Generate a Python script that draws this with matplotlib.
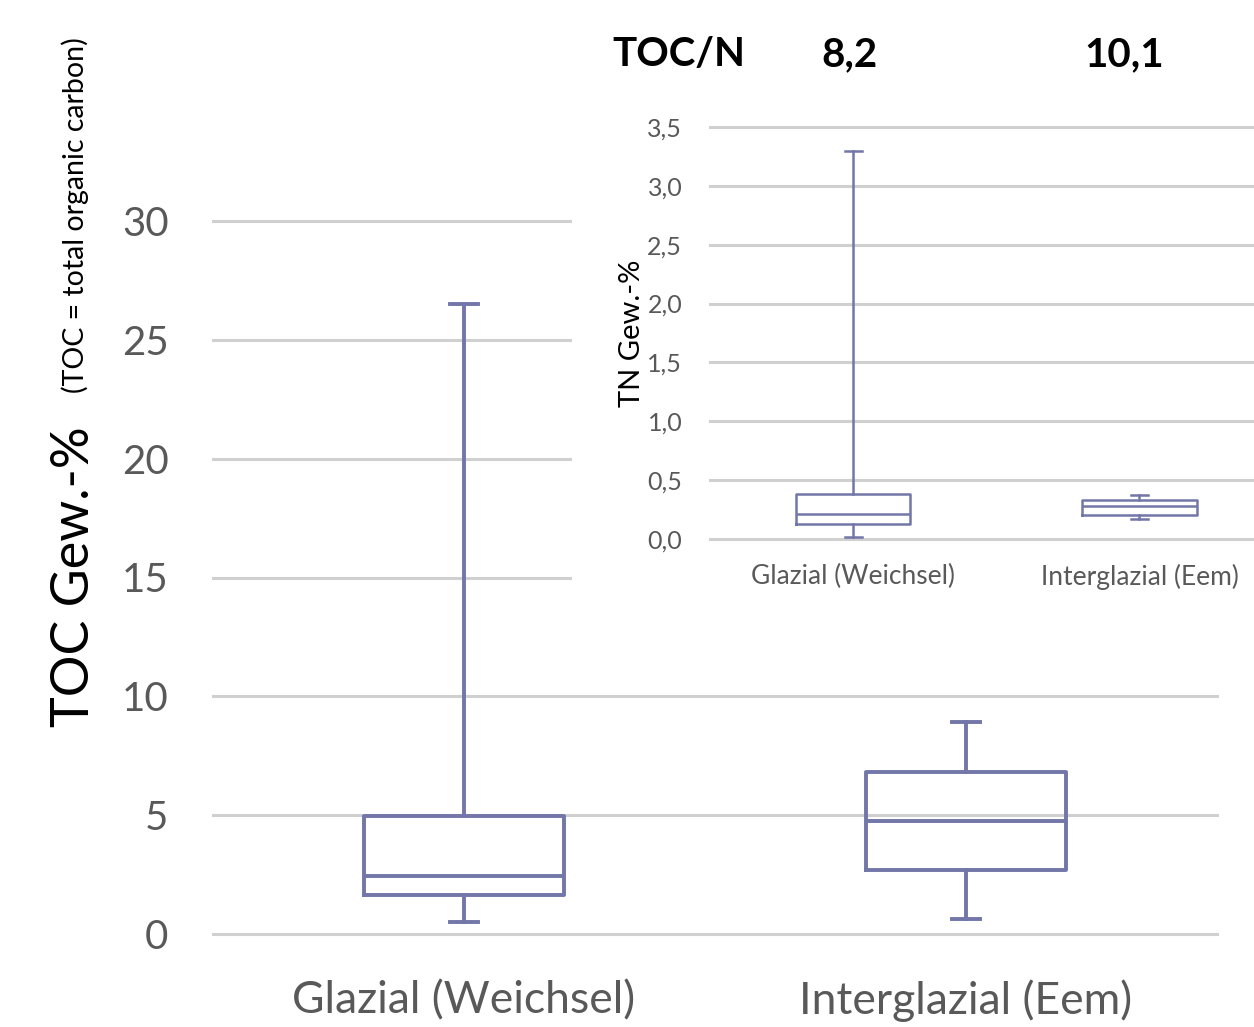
import matplotlib.pyplot as plt
from matplotlib.patches import Rectangle

# TOC (Gew.-%) box stats
categories = ['Glazial (Weichsel)', 'Interglazial (Eem)']
toc_min = [0.5, 0.63]
toc_q1 = [1.64, 2.69]
toc_med = [2.44, 4.75]
toc_q3 = [4.96, 6.82]
toc_max = [26.5, 8.92]

# TN (Gew.-%) box stats for the inset
tn_min = [0.02, 0.17]
tn_q1 = [0.13, 0.20]
tn_med = [0.21, 0.28]
tn_q3 = [0.38, 0.33]
tn_max = [3.30, 0.375]

toc_n = ['8,2', '10,1']
toc_ticks = [0, 5, 10, 15, 20, 25, 30]
tn_ticks = [0.0, 0.5, 1.0, 1.5, 2.0, 2.5, 3.0, 3.5]

box_col = '#7276A8'
grid_col = '#D0D0D0'
tick_col = '#595959'
font = 'Lato'


def stats(mins, q1, med, q3, maxs):
    return [dict(whislo=a, q1=b, med=c, q3=d, whishi=e)
            for a, b, c, d, e in zip(mins, q1, med, q3, maxs)]


fig = plt.figure(figsize=(12.54, 10.27), dpi=100)

# main chart
ax = fig.add_axes([213 / 1254, 1 - 934 / 1027, 1004 / 1254, 713 / 1027])
lw = 2.8
ax.bxp(stats(toc_min, toc_q1, toc_med, toc_q3, toc_max), positions=[1, 2],
       widths=0.4, showfliers=False, capwidths=0.055,
       boxprops=dict(color=box_col, linewidth=lw),
       whiskerprops=dict(color=box_col, linewidth=lw),
       capprops=dict(color=box_col, linewidth=lw),
       medianprops=dict(color=box_col, linewidth=lw))
ax.set_xlim(0.5, 2.5)
ax.set_ylim(0, 30)
ax.set_yticks(toc_ticks)
ax.set_yticklabels([str(t) for t in toc_ticks], fontsize=29, color=tick_col, family=font)
ax.set_xticks([1, 2])
ax.set_xticklabels(categories, fontsize=32, color=tick_col, family=font)
ax.tick_params(length=0)
ax.tick_params(axis='y', pad=32)
ax.tick_params(axis='x', pad=33)
for s in ax.spines.values():
    s.set_visible(False)
for t in toc_ticks:
    ax.axhline(t, color=grid_col, linewidth=2.2, zorder=0, clip_on=False)

fig.text(75 / 1254, 1 - 577 / 1027, 'TOC Gew.-%', rotation=90, fontsize=37.5,
         family=font, ha='center', va='center')
fig.text(75 / 1254, 1 - 215 / 1027, '(TOC = total organic carbon)', rotation=90,
         fontsize=20.5, family=font, ha='center', va='center')

# white area behind the inset
fig.patches.append(Rectangle((572 / 1254, 1 - 650 / 1027), 682 / 1254, 650 / 1027,
                             transform=fig.transFigure, facecolor='white',
                             edgecolor='none', zorder=1))

# inset
ax2 = fig.add_axes([710 / 1254, 1 - 539 / 1027, 544 / 1254, 412 / 1027], zorder=2)
ax2.patch.set_alpha(0)
lw2 = 1.8
ax2.bxp(stats(tn_min, tn_q1, tn_med, tn_q3, tn_max), positions=[1, 2],
        widths=0.4, showfliers=False, capwidths=0.06,
        boxprops=dict(color=box_col, linewidth=lw2),
        whiskerprops=dict(color=box_col, linewidth=lw2),
        capprops=dict(color=box_col, linewidth=lw2),
        medianprops=dict(color=box_col, linewidth=lw2))
ax2.set_xlim(0.5, 2.4)
ax2.set_ylim(0, 3.5)
ax2.set_yticks(tn_ticks)
ax2.set_yticklabels([f'{t:.1f}'.replace('.', ',') for t in tn_ticks],
                    fontsize=18, color=tick_col, family=font)
ax2.set_xticks([1, 2])
ax2.set_xticklabels(categories, fontsize=19, color=tick_col, family=font)
ax2.tick_params(length=0)
ax2.tick_params(axis='y', pad=20)
ax2.tick_params(axis='x', pad=18)
for s in ax2.spines.values():
    s.set_visible(False)
for t in tn_ticks:
    ax2.axhline(t, color=grid_col, linewidth=2.2, zorder=0, clip_on=False)
ax2.set_ylabel('TN Gew.-%', fontsize=21, family=font, labelpad=2)

# TOC/N header
head_y = 1 - 55 / 1027
fig.text(612 / 1254, head_y, 'TOC/N', fontsize=29, fontweight='bold',
         family=font, ha='left', va='center')
for xp, txt in zip([850, 1124], toc_n):
    fig.text(xp / 1254, head_y, txt, fontsize=29, fontweight='bold',
             family=font, ha='center', va='center')

fig.savefig('out.png', dpi=100)
